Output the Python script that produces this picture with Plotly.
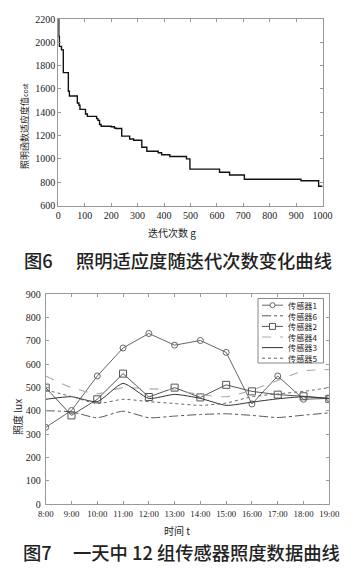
import plotly.graph_objects as go

W, H = 353, 575

# ---------------- data: Fig 6 (convergence step curve)
iters = [0, 2, 4, 12, 19, 38, 42, 72, 78, 82, 103, 110, 145, 150, 156, 162, 200, 212,
         218, 240, 270, 285, 316, 335, 378, 391, 422, 485, 498, 610, 648, 704, 918, 985, 1000]
cost = [2200, 2050, 1965, 1935, 1740, 1580, 1540, 1480, 1460, 1425, 1385, 1365, 1345, 1330,
        1295, 1280, 1275, 1265, 1260, 1195, 1170, 1160, 1100, 1065, 1052, 1035, 1020, 1000,
        912, 885, 862, 825, 812, 765, 765]

# ---------------- data: Fig 7 (sensor illuminance)
times = ["8:00", "9:00", "10:00", "11:00", "12:00", "13:00", "14:00", "15:00",
         "16:00", "17:00", "18:00", "19:00"]
s1 = [330, 402, 550, 670, 732, 682, 702, 651, 430, 550, 450, 454]
s6 = [401, 396, 371, 399, 371, 378, 385, 388, 381, 372, 382, 392]
s2 = [500, 381, 450, 560, 460, 500, 458, 512, 484, 470, 463, 452]
s4 = [550, 500, 474, 500, 495, 490, 470, 461, 489, 531, 571, 578]
s3 = [450, 461, 440, 518, 454, 471, 454, 424, 438, 452, 461, 454]
s5 = [490, 462, 432, 450, 440, 432, 424, 434, 461, 473, 484, 500]

FONT_T = "Liberation Serif"
FONT_C = "Noto Sans CJK SC"

def px(x):
    return x / W

def py(y):
    return 1 - y / H

fig = go.Figure()

fig.add_trace(go.Scatter(x=iters, y=cost, mode="lines", line=dict(color="#111", width=1.4, shape="hv"),
                         xaxis="x", yaxis="y", showlegend=False))

series = [
    ("传感器1", s1, dict(color="#666", width=1), dict(symbol="circle-open", size=6, color="#666"), "linear", "lines+markers"),
    ("传感器6", s6, dict(color="#555", width=1, dash="dashdot"), None, "spline", "lines"),
    ("传感器2", s2, dict(color="#555", width=1), dict(symbol="square-open", size=7, color="#555"), "linear", "lines+markers"),
    ("传感器4", s4, dict(color="#aaa", width=1.1, dash="dash"), None, "spline", "lines"),
    ("传感器3", s3, dict(color="#333", width=1), None, "spline", "lines"),
    ("传感器5", s5, dict(color="#666", width=1, dash="dot"), None, "spline", "lines"),
]
for name, ys, ln, mk, shp, mode in series:
    ln = dict(ln, shape=shp)
    if shp == "spline":
        ln["smoothing"] = 0.6
    kw = dict(x=times, y=ys, mode=mode, line=ln, name=name, xaxis="x2", yaxis="y2", showlegend=False)
    if mk:
        kw["marker"] = dict(symbol=mk["symbol"], size=mk["size"], color=mk["color"], line=dict(width=1, color=mk["color"]))
    fig.add_trace(go.Scatter(**kw))

axcommon = dict(showline=True, linecolor="#999", linewidth=1, mirror="ticks", ticks="inside",
                ticklen=3, tickcolor="#999", showgrid=False, zeroline=False, automargin=False,
                tickfont=dict(family=FONT_T, size=10, color="#222"))

fig.update_layout(
    template="none",
    width=W, height=H, autosize=False, margin=dict(l=0, r=0, t=0, b=0, pad=0),
    paper_bgcolor="white", plot_bgcolor="white", showlegend=False,
    xaxis=dict(axcommon, domain=[px(58.3), px(322.6)], range=[0, 1000], dtick=100, anchor="y"),
    yaxis=dict(axcommon, domain=[py(205.5), py(19)], range=[600, 2200], dtick=200, anchor="x"),
    xaxis2=dict(axcommon, domain=[px(45.7), px(329.3)], range=[0, 11], anchor="y2",
                ticklabelstandoff=1,
                tickfont=dict(family=FONT_T, size=8.8, color="#222")),
    yaxis2=dict(axcommon, domain=[py(504.3), py(294.3)], range=[0, 900], dtick=100, anchor="x2",
                ticklabelstandoff=2),
)

def note(text, x, y, size, xanchor="center", angle=0, **extra):
    return dict(text=text, x=px(x), y=py(y), xref="paper", yref="paper", xanchor=xanchor,
                yanchor="middle", textangle=angle, showarrow=False,
                font=dict(family=FONT_C, size=size, color="#222", **extra))

ann = [
    note("迭代次数 g", 172, 232, 10),
    note("照明函数适应度值<span style='font-size:7px'>cost</span>", 25, 126, 9, angle=-90),
    note("时间 t", 177, 530, 10),
    note("照度 lux", 17, 417, 10, angle=-90),
    # captions
    note("图6", 22, 260, 18.3, xanchor="left", weight=500),
    note("照明适应度随迭代次数变化曲线", 74, 260, 18.3, xanchor="left", weight=500),
    note("图7", 21, 552, 18.3, xanchor="left", weight=500),
    note("一天中 12 组传感器照度数据曲线", 71, 552, 18.3, xanchor="left", weight=500),
]

# custom legend (box, samples, and one multi-line label block)
shapes = [dict(type="rect", xref="paper", yref="paper", x0=px(258), x1=px(323.5), y0=py(363), y1=py(298.5),
               line=dict(color="#888", width=1), fillcolor="white", layer="above")]
ly0 = 305.2
step = 10.6
for i, (name, ys, ln, mk, shp, mode) in enumerate(series):
    yy = ly0 + i * step
    shapes.append(dict(type="line", xref="paper", yref="paper", x0=px(262), x1=px(283), y0=py(yy), y1=py(yy),
                       line=dict(color=ln["color"], width=ln["width"], dash=ln.get("dash", "solid")), layer="above"))
    if mk and mk["symbol"].startswith("circle"):
        shapes.append(dict(type="circle", xref="paper", yref="paper", x0=px(270), x1=px(275), y0=py(yy + 2.5),
                           y1=py(yy - 2.5), line=dict(color=mk["color"], width=1), fillcolor="white", layer="above"))
    elif mk:
        shapes.append(dict(type="rect", xref="paper", yref="paper", x0=px(269.5), x1=px(275.5), y0=py(yy + 3),
                           y1=py(yy - 3), line=dict(color=mk["color"], width=1), fillcolor="white", layer="above"))
legend_note = note("<br>".join(s[0] for s in series), 286, ly0 + 2.5 * step, step / 1.3, xanchor="left")
legend_note["align"] = "left"
ann.append(legend_note)

fig.update_layout(annotations=ann, shapes=shapes)
fig.write_html("out.html")
